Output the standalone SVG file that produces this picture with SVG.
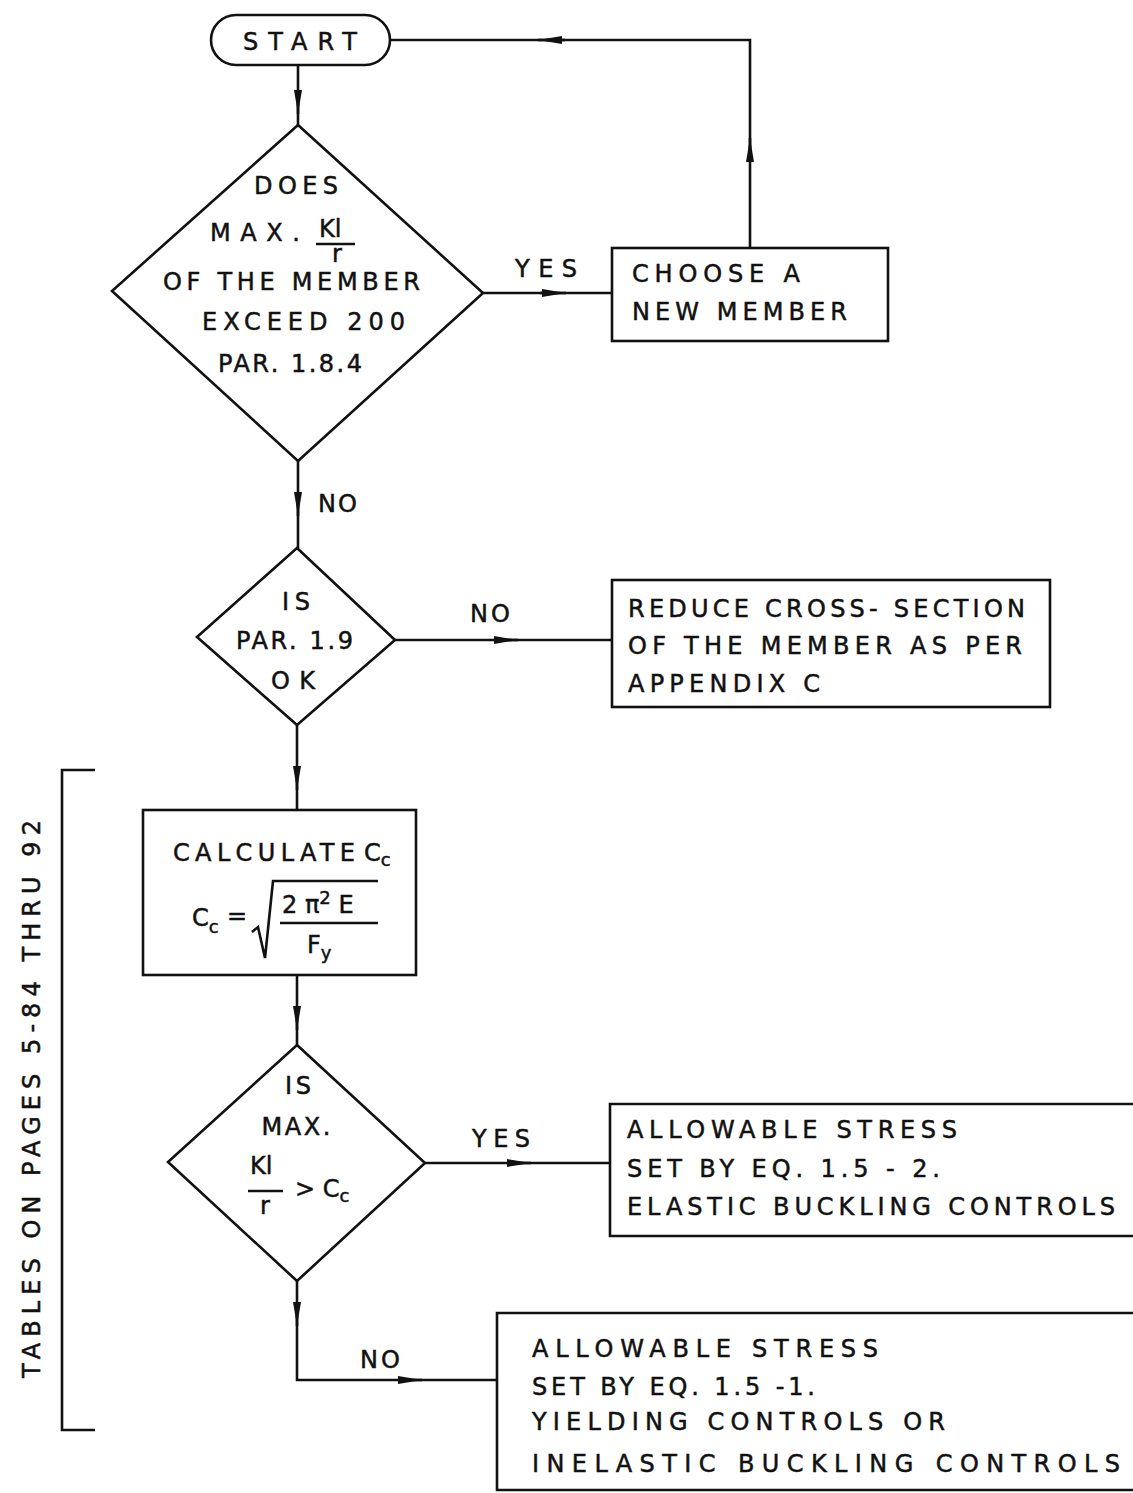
<svg xmlns="http://www.w3.org/2000/svg" width="1133" height="1493" viewBox="0 0 1133 1493">
<style>
.s{fill:none;stroke:#111;stroke-width:2.6;stroke-linejoin:miter}
.t{font-family:"DejaVu Sans","Liberation Sans",Arial,sans-serif;font-size:24px;fill:#111;stroke:#111;stroke-width:0.5}
.m{text-anchor:middle}
.sub{font-size:18px}
</style>
<defs>
<marker id="a" markerUnits="userSpaceOnUse" markerWidth="26" markerHeight="12" refX="24" refY="6" orient="auto">
<path d="M0 2 L24 6 L0 10 Z" fill="#111"/>
</marker>
</defs>
<rect width="1133" height="1493" fill="#fff"/>

<g id="start">
<rect class="s" x="211" y="15" width="179" height="50" rx="25"/>
<text class="t m" x="300" y="50" textLength="114">START</text>
</g>

<g id="d1">
<path class="s" d="M298 125 L483 293 L298 461 L112 291 Z"/>
<text class="t m" x="296" y="194" textLength="84">DOES</text>
<text class="t" x="210" y="241" textLength="90">MAX.</text>
<text class="t" x="319" y="237" font-size="20">Kl</text>
<line class="s" x1="316" y1="244" x2="355" y2="244"/>
<text class="t" x="332" y="262" font-size="16">r</text>
<text class="t" x="163" y="290" textLength="257">OF THE MEMBER</text>
<text class="t" x="202" y="330" textLength="203">EXCEED 200</text>
<text class="t" x="218" y="372" textLength="144">PAR. 1.8.4</text>
</g>

<g id="choose">
<rect class="s" x="612" y="248" width="276" height="93"/>
<text class="t" x="632" y="282" textLength="168">CHOOSE  A</text>
<text class="t" x="632" y="320" textLength="215">NEW  MEMBER</text>
</g>

<g id="d2">
<path class="s" d="M297 548 L395 640 L297 725 L197 637 Z"/>
<text class="t m" x="296" y="610" textLength="28">IS</text>
<text class="t" x="236" y="649" textLength="117">PAR. 1.9</text>
<text class="t m" x="293" y="689" textLength="44">OK</text>
</g>

<g id="reduce">
<rect class="s" x="612" y="580" width="438" height="127"/>
<text class="t" x="628" y="617" textLength="397">REDUCE CROSS- SECTION</text>
<text class="t" x="628" y="654" textLength="394">OF THE MEMBER AS PER</text>
<text class="t" x="628" y="692" textLength="192">APPENDIX  C</text>
</g>

<g id="calc">
<rect class="s" x="143" y="810" width="273" height="165"/>
<text class="t" x="173" y="861" textLength="182">CALCULATE</text>
<text class="t" x="364" y="861">C<tspan class="sub" dy="5">c</tspan></text>
<text class="t" x="192" y="926">C<tspan class="sub" dy="7">c</tspan></text>
<text class="t" x="227" y="924" font-size="20">=</text>
<path class="s" d="M252 932 L258 927 L265 958 L273 881 L378 881"/>
<text class="t" x="282" y="913">2 π<tspan class="sub" dy="-9">2</tspan><tspan dy="9"> E</tspan></text>
<line class="s" x1="280" y1="923" x2="378" y2="923"/>
<text class="t" x="307" y="953">F<tspan class="sub" dy="6">y</tspan></text>
</g>

<g id="d3">
<path class="s" d="M297 1045 L425 1163 L297 1281 L168 1162 Z"/>
<text class="t m" x="298" y="1094" textLength="26">IS</text>
<text class="t m" x="296" y="1135" textLength="69">MAX.</text>
<text class="t" x="250" y="1174">Kl</text>
<line class="s" x1="248" y1="1191" x2="283" y2="1191"/>
<text class="t" x="260" y="1214" font-size="18">r</text>
<text class="t" x="295" y="1197">&gt; C<tspan class="sub" dy="5">c</tspan></text>
</g>

<g id="elastic">
<path class="s" d="M1140 1104 L610 1104 L610 1236 L1140 1236"/>
<text class="t" x="627" y="1138" textLength="330">ALLOWABLE  STRESS</text>
<text class="t" x="627" y="1177" textLength="313">SET  BY  EQ.  1.5 - 2.</text>
<text class="t" x="627" y="1215" textLength="488">ELASTIC  BUCKLING  CONTROLS</text>
</g>

<g id="inelastic">
<path class="s" d="M1140 1313 L497 1313 L497 1490 L1140 1490"/>
<text class="t" x="532" y="1357" textLength="346">ALLOWABLE  STRESS</text>
<text class="t" x="532" y="1395" textLength="283">SET  BY  EQ.  1.5 -1.</text>
<text class="t" x="532" y="1430" textLength="413">YIELDING  CONTROLS  OR</text>
<text class="t" x="532" y="1472" textLength="588">INELASTIC  BUCKLING  CONTROLS</text>
</g>

<g id="tables">
<text class="t" transform="translate(40 1378) rotate(-90)" x="0" y="0" textLength="558">TABLES  ON  PAGES  5-84  THRU  92</text>
<path class="s" d="M95 770 L62 770 L62 1430 L95 1430"/>
</g>

<g id="connectors">
<path class="s" d="M298 65 V125"/>
<path class="s" d="M298 90 V114" marker-end="url(#a)"/>
<path class="s" d="M483 293 H612"/>
<path class="s" d="M540 293 H566" marker-end="url(#a)"/>
<path class="s" d="M750 248 V40 H390"/>
<path class="s" d="M750 162 V138" marker-end="url(#a)"/>
<path class="s" d="M565 40 H538" marker-end="url(#a)"/>
<path class="s" d="M298 461 V548"/>
<path class="s" d="M298 492 V516" marker-end="url(#a)"/>
<path class="s" d="M395 640 H612"/>
<path class="s" d="M494 640 H518" marker-end="url(#a)"/>
<path class="s" d="M297 725 V810"/>
<path class="s" d="M297 766 V790" marker-end="url(#a)"/>
<path class="s" d="M297 975 V1045"/>
<path class="s" d="M297 1006 V1030" marker-end="url(#a)"/>
<path class="s" d="M425 1163 H610"/>
<path class="s" d="M507 1163 H531" marker-end="url(#a)"/>
<path class="s" d="M297 1281 V1380 H497"/>
<path class="s" d="M297 1302 V1326" marker-end="url(#a)"/>
<path class="s" d="M398 1380 H422" marker-end="url(#a)"/>
<text class="t" x="515" y="277" textLength="62">YES</text>
<text class="t" x="318" y="512" textLength="39">NO</text>
<text class="t" x="470" y="622" textLength="40">NO</text>
<text class="t" x="472" y="1147" textLength="58">YES</text>
<text class="t" x="360" y="1368" textLength="40">NO</text>
</g>
</svg>
